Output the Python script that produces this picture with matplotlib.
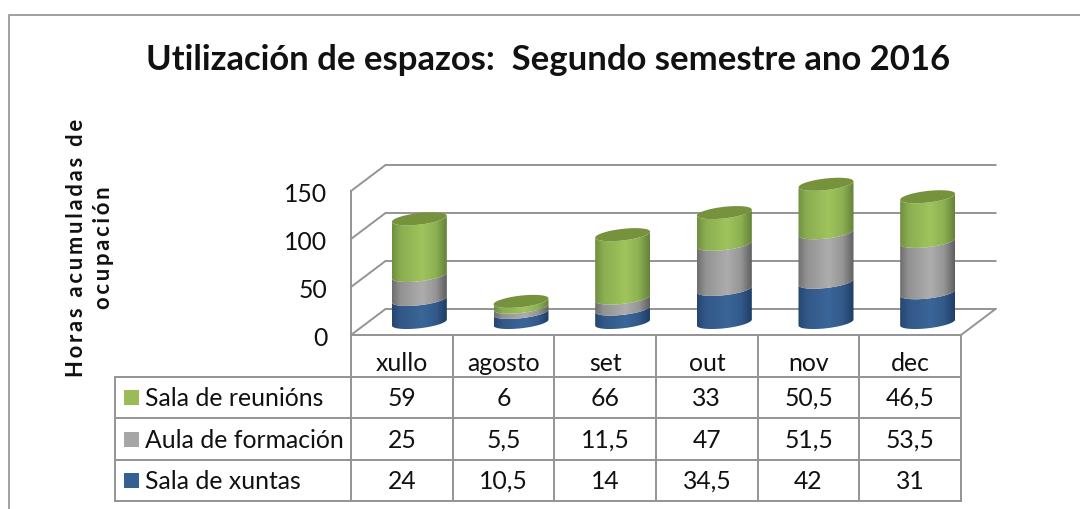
"""Utilización de espazos: stacked 3D-look cylinders above a data table."""
import numpy as np
import matplotlib

matplotlib.use("Agg")
import matplotlib.pyplot as plt
from matplotlib.patches import PathPatch, Rectangle
from matplotlib.path import Path
from matplotlib.transforms import ScaledTranslation

plt.rcParams["font.family"] = ["Lato", "DejaVu Sans"]

MONTHS = ["xullo", "agosto", "set", "out", "nov", "dec"]
XUNTAS = [24, 10.5, 14, 34.5, 42, 31]
FORMACION = [25, 5.5, 11.5, 47, 51.5, 53.5]
REUNIONS = [59, 6, 66, 33, 50.5, 46.5]
SERIES_NAMES = ["Sala de reunións", "Aula de formación", "Sala de xuntas"]
YTICKS = [0, 50, 100, 150]

TITLE = "Utilización de espazos:  Segundo semestre ano 2016"
YLABEL = "Horas acumuladas de\nocupación"

W, H = 1080, 509
GREY = "#949494"
INK = "#111111"
# centre colour, edge colour
BLUE = ("#3b6699", "#1f3d66")
SILVER = ("#adadad", "#5f5f5f")
GREEN = ("#9fc45c", "#64823a")
CAP = "#76923c"
KEYS = ["#9bbb59", "#a6a6a6", "#376092"]

# plot box in pixels
X0, X1, Y_FLOOR, Y_TOP = 351, 961, 335, 191
PX_X = (X1 - X0) / 6
PX_Y = (Y_FLOOR - Y_TOP) / 150
DEPTH_X, DEPTH_Y = 34.5 / PX_X, 26 / PX_Y
BAR_DX, BAR_DY = 17.5 / PX_X, 12.5 / PX_Y
RX, RY, TILT = 27.5 / PX_X, 5.8 / PX_Y, 3 / PX_Y
FS = 17.8


def hex_rgb(c):
    return np.array(matplotlib.colors.to_rgb(c))


def shade(center, edge):
    t = np.linspace(0, 1, 120)
    # light band a little right of the middle, darker toward the right edge
    k = np.interp(t, [0, 0.15, 0.55, 0.8, 1], [0.8, 0.35, 0, 0.3, 1])
    c, e = hex_rgb(center), hex_rgb(edge)
    return (c[None, :] * (1 - k[:, None]) + e[None, :] * k[:, None])[None, :, :]


def arc(cx, cy, start, stop):
    t = np.linspace(start, stop, 40)
    return cx + RX * np.cos(t), cy + RY * np.sin(t) + TILT * np.cos(t)


def segment(ax, cx, v0, v1, colors):
    xb, yb = arc(cx, v0 + BAR_DY, np.pi, 2 * np.pi)
    xt, yt = arc(cx, v1 + BAR_DY, 2 * np.pi, np.pi)
    verts = np.column_stack([np.r_[xb, xt], np.r_[yb, yt]])
    patch = PathPatch(Path(np.vstack([verts, verts[0]]), closed=True), fc="none", ec="none",
                      transform=ax.transData, clip_on=False)
    ax.add_patch(patch)
    im = ax.imshow(shade(*colors), extent=(cx - RX, cx + RX, v0 - 20, v1 + 40), aspect="auto",
                   origin="lower", zorder=3, interpolation="bilinear")
    im.set_clip_path(patch)
    im.set_clip_box(fig.bbox)


fig = plt.figure(figsize=(W / 100, H / 100), dpi=100)

# pixel overlay for frame and table
px = fig.add_axes([0, 0, 1, 1])
px.set_xlim(0, W); px.set_ylim(H, 0); px.axis("off")
px.plot([8.5, 8.5, W], [H, 15, 15], color="#a0a0a0", lw=1.4)

ax = fig.add_axes([X0 / W, 1 - Y_FLOOR / H, (X1 - X0) / W, (Y_FLOOR - Y_TOP) / H])
ax.patch.set_alpha(0)

# walls and gridlines
for v in YTICKS:
    ax.plot([-0.5, -0.5 + DEPTH_X, 5.5 + DEPTH_X], [v, v + DEPTH_Y, v + DEPTH_Y],
            color=GREY, lw=1.4, clip_on=False, zorder=1)
ax.plot([5.5, 5.5 + DEPTH_X], [0, DEPTH_Y], color=GREY, lw=1.4, clip_on=False, zorder=1)
ax.plot([-0.5, -0.5], [0, 150], color=GREY, lw=1.4, clip_on=False, zorder=1)
ax.plot([-0.5, 5.5], [0, 0], color=GREY, lw=1.4, clip_on=False, zorder=1)

# cylinders
for i in range(len(MONTHS)):
    cx = i + BAR_DX
    a = XUNTAS[i]
    b = a + FORMACION[i]
    c = b + REUNIONS[i]
    segment(ax, cx, 0, a, BLUE)
    segment(ax, cx, a, b, SILVER)
    segment(ax, cx, b, c, GREEN)
    xc, yc = arc(cx, c + BAR_DY, 0, 2 * np.pi)
    ax.fill(xc, yc, color=CAP, zorder=4, clip_on=False, lw=0)

ax.set_xlim(-0.5, 5.5); ax.set_ylim(0, 150)
for s in ax.spines.values():
    s.set_visible(False)
ax.set_yticks(YTICKS)
ax.set_xticks(range(len(MONTHS)))
ax.set_xticklabels(MONTHS)
ax.tick_params(axis="y", length=0, pad=17, labelsize=FS, labelcolor=INK)
ax.tick_params(axis="x", length=0, pad=12.5, labelsize=FS, labelcolor=INK)
nudge = ScaledTranslation(0, -1.5 / 100, fig.dpi_scale_trans)
for lab in ax.get_yticklabels():
    lab.set_transform(lab.get_transform() + nudge)

# data table
TL, ROWS = 115, [377, 418, 460, 501]
cols = [X0 + PX_X * k for k in range(7)]
for k, xc in enumerate(cols):
    px.plot([xc, xc], [Y_FLOOR, ROWS[-1]], color=GREY, lw=1.4)
for y in ROWS:
    px.plot([TL, X1], [y, y], color=GREY, lw=1.4)
px.plot([TL, TL], [ROWS[0], ROWS[-1]], color=GREY, lw=1.4)

for row, (name, vals, key) in enumerate(zip(SERIES_NAMES, [REUNIONS, FORMACION, XUNTAS], KEYS)):
    yc = (ROWS[row] + ROWS[row + 1]) / 2
    px.add_patch(Rectangle((124, yc - 7.5), 15, 15, fc=key, ec="none"))
    px.text(145, yc + 1, name, ha="left", va="center", fontsize=FS, color=INK)
    for k, v in enumerate(vals):
        px.text(cols[k] + PX_X / 2, yc + 1, f"{v:g}".replace(".", ","), ha="center", va="center",
                fontsize=FS, color=INK)

px.text(548, 60, TITLE, ha="center", va="center", fontsize=24.9, fontweight="bold", color=INK)
spaced = "\n".join("\u2009".join(line) for line in YLABEL.split("\n"))
px.text(90, 248, spaced, rotation=90, ha="center", va="center", ma="center", fontsize=15.8,
        fontweight="bold", color=INK, linespacing=1.3)

fig.savefig("out.png", dpi=100, facecolor="white")
